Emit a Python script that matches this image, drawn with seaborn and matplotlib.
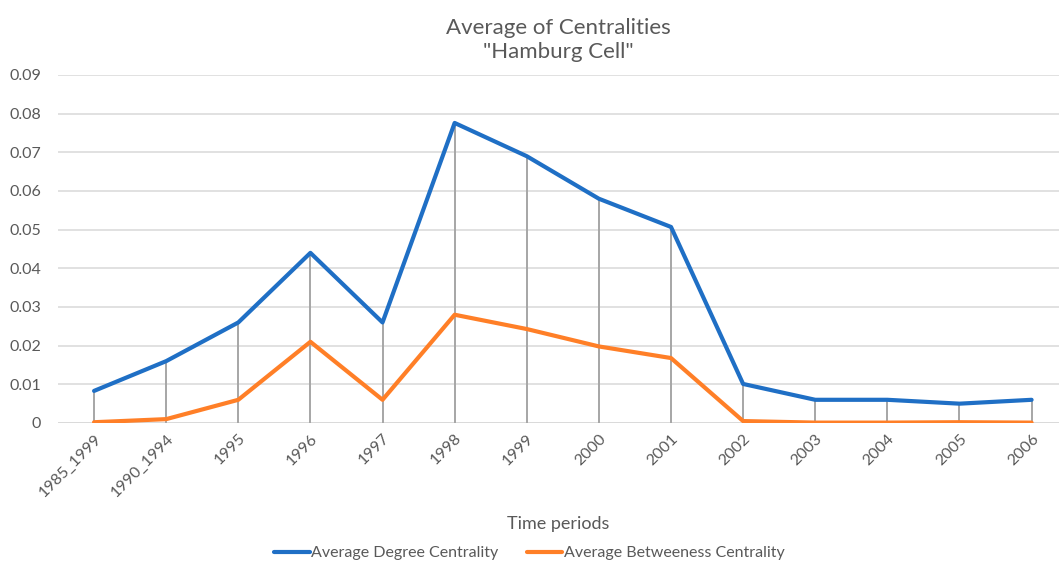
import pandas as pd
import seaborn as sns
import matplotlib.pyplot as plt

# Values
periods = ['1985_1999', '1990_1994', '1995', '1996', '1997', '1998', '1999',
           '2000', '2001', '2002', '2003', '2004', '2005', '2006']
degree = [0.0083, 0.016, 0.026, 0.044, 0.026, 0.0776, 0.069,
          0.058, 0.0507, 0.0101, 0.006, 0.006, 0.005, 0.006]
betweenness = [0.0002, 0.001, 0.006, 0.021, 0.006, 0.028, 0.0243,
               0.0198, 0.0168, 0.0005, 0.0001, 0.0001, 0.0002, 0.0001]
series_names = ['Average Degree Centrality', 'Average Betweeness Centrality']

df = pd.DataFrame({
    'period': periods * 2,
    'value': degree + betweenness,
    'series': [series_names[0]] * len(periods) + [series_names[1]] * len(periods),
})

sns.set_style('white')
plt.rcParams['font.family'] = ['Lato', 'DejaVu Sans']
text_col = '#595959'

fig = plt.figure(figsize=(10.59, 5.64), dpi=100)
ax = fig.add_axes([58 / 1059, 1 - 423 / 564, 1001 / 1059, 348 / 564])

# gray drop lines from the highest point down to the axis
x = range(len(periods))
tops = [max(a, b) for a, b in zip(degree, betweenness)]
ax.vlines(x, 0, tops, color='#a6a6a6', lw=1.4, zorder=1)

sns.lineplot(data=df, x='period', y='value', hue='series', sort=False,
             palette=['#1f6fc5', '#ff7f27'], lw=3.0, ax=ax, zorder=3)

ax.set_xlim(-0.5, 13.38)
ax.set_ylim(0, 0.09)
ax.set_yticks([i / 100 for i in range(10)])
ax.set_yticklabels(['0'] + [f'{i / 100:.2f}' for i in range(1, 10)])
ax.yaxis.grid(True, color='#d9d9d9', lw=1.1)
ax.set_axisbelow(True)
for s in ax.spines.values():
    s.set_visible(False)
ax.axhline(0, color='#d9d9d9', lw=1.1, zorder=0)

ax.tick_params(axis='both', length=0, labelsize=11.5, colors=text_col)
ax.tick_params(axis='y', pad=12)
ax.tick_params(axis='x', pad=6)
plt.setp(ax.get_xticklabels(), rotation=45, ha='right', rotation_mode='anchor')

ax.set_xlabel('Time periods', fontsize=13, color=text_col, labelpad=12)
ax.set_ylabel('')
ax.set_title('Average of Centralities\n"Hamburg Cell"', fontsize=16,
             color=text_col, pad=12, linespacing=1.25)

ax.legend(loc='center', bbox_to_anchor=(0.5, 1 - 553 / 564), bbox_transform=fig.transFigure,
          ncol=2, frameon=False, fontsize=11.5, handlelength=2.2, handletextpad=0.1,
          columnspacing=1.8, labelcolor=text_col)

fig.savefig('out.png', dpi=100)
